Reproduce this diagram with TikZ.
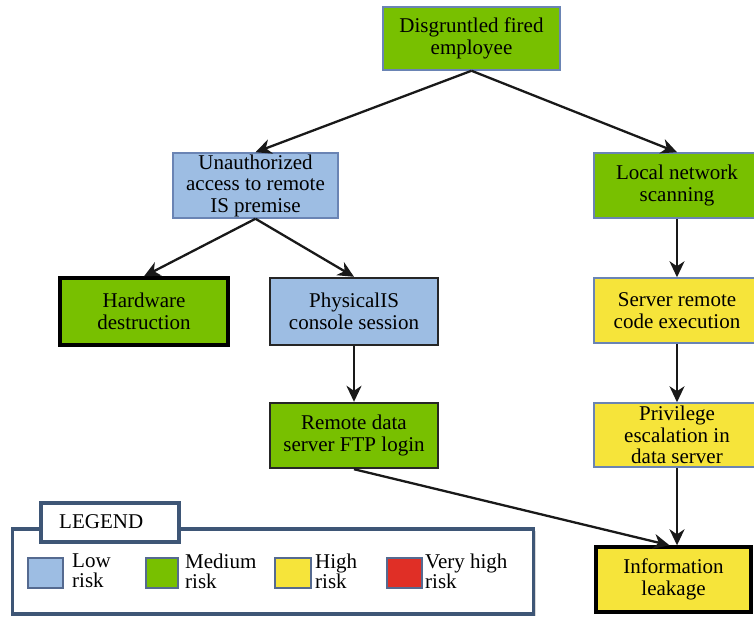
\documentclass[tikz,border=0pt]{standalone}
\usepackage{fontspec}
\setmainfont{Liberation Serif}
\usetikzlibrary{arrows.meta,shadows}

\definecolor{lowrisk}{HTML}{9DBDE3}
\definecolor{medrisk}{HTML}{78C000}
\definecolor{highrisk}{HTML}{F6E43A}
\definecolor{vhighrisk}{HTML}{E02F26}
\definecolor{thinedge}{HTML}{6A84B4}
\definecolor{legedge}{HTML}{3E5676}

\tikzset{
  every node/.style={font=\fontsize{21}{21.5}\selectfont},
  riskbox/.style={rectangle, align=center, inner sep=0pt, text=black},
  thinbox/.style={riskbox, draw=thinedge, line width=1.5pt},
  darkbox/.style={riskbox, draw=black!85, line width=2.4pt},
  heavybox/.style={riskbox, draw=black, line width=3.4pt,
    drop shadow={shadow xshift=1.5pt, shadow yshift=-1.5pt, opacity=0.35}},
  link/.style={-{Stealth[length=16pt,width=15pt,inset=5pt]}, line width=2.3pt, black!90},
  swatch/.style={draw=thinedge!80!black, line width=1.6pt},
  legtext/.style={anchor=north west, align=left, inner sep=0pt, font=\fontsize{21}{20}\selectfont}
}

\begin{document}
\begin{tikzpicture}[x=1pt,y=-1pt]
\useasboundingbox (0,0) rectangle (754,621);
\clip (0,0) rectangle (754,621);

% attack tree nodes
\node[thinbox, fill=medrisk, minimum width=177pt, minimum height=63pt] (top) at (471.5,38.5) {Disgruntled fired\\employee};
\node[thinbox, fill=lowrisk, minimum width=165pt, minimum height=65pt] (unauth) at (255.5,185.5) {Unauthorized\\access to remote\\IS premise};
\node[thinbox, fill=medrisk, minimum width=166pt, minimum height=65pt] (scan) at (677,185.5) {Local network\\scanning};
\node[heavybox, fill=medrisk, minimum width=168pt, minimum height=67pt] (hw) at (144,311.5) {Hardware\\destruction};
\node[darkbox, fill=lowrisk, minimum width=168pt, minimum height=67pt] (phys) at (354,311.5) {PhysicalIS\\console session};
\node[darkbox, fill=medrisk, minimum width=168pt, minimum height=65pt] (ftp) at (354,435.5) {Remote data\\server FTP login};
\node[thinbox, fill=highrisk, minimum width=166pt, minimum height=65pt] (rce) at (677,310.5) {Server remote\\code execution};
\node[thinbox, fill=highrisk, minimum width=166pt, minimum height=64pt] (priv) at (677,435) {Privilege\\escalation in\\data server};
\node[heavybox, fill=highrisk, minimum width=155pt, minimum height=65pt] (leak) at (673.5,579.5) {Information\\leakage};

% connectors
\draw[link] (top.south) -- (unauth.north);
\draw[link] (top.south) -- (scan.north);
\draw[link] (unauth.south) -- (hw.north);
\draw[link] (unauth.south) -- (phys.north);
\draw[link] (phys.south) -- (ftp.north);
\draw[link] (scan.south) -- (rce.north);
\draw[link] (rce.south) -- (priv.north);
\draw[link] (priv.south) -- (priv.south |- leak.north);
\draw[link] (ftp.south) -- ([xshift=-4pt]leak.north);

% legend panel
\node[draw=legedge, line width=3.4pt, fill=white, rectangle, inner sep=0pt,
  minimum width=521pt, minimum height=85pt,
  drop shadow={shadow xshift=2pt, shadow yshift=-2pt, opacity=0.3}] (legend) at (273,571.5) {};
\node[draw=legedge, line width=3.4pt, fill=white, rectangle, inner sep=0pt,
  minimum width=138pt, minimum height=39pt,
  drop shadow={shadow xshift=2pt, shadow yshift=-2pt, opacity=0.3}] (legtab) at (110,522.5) {};
\node[anchor=west, inner sep=0pt] (legtitle) at (59,522) {LEGEND};

\draw[swatch, fill=lowrisk] (28,558) rectangle (63,588);
\node[legtext] (tlow) at (72,554) {Low\\risk};
\draw[swatch, fill=medrisk] (146,558) rectangle (178,588);
\node[legtext] (tmed) at (185,554) {Medium\\risk};
\draw[swatch, fill=highrisk] (275,558) rectangle (311,588);
\node[legtext] (thigh) at (315,554) {High\\risk};
\draw[swatch, fill=vhighrisk] (387,558) rectangle (422,588);
\node[legtext] (tvhigh) at (425,554) {Very high\\risk};
\end{tikzpicture}
\end{document}
